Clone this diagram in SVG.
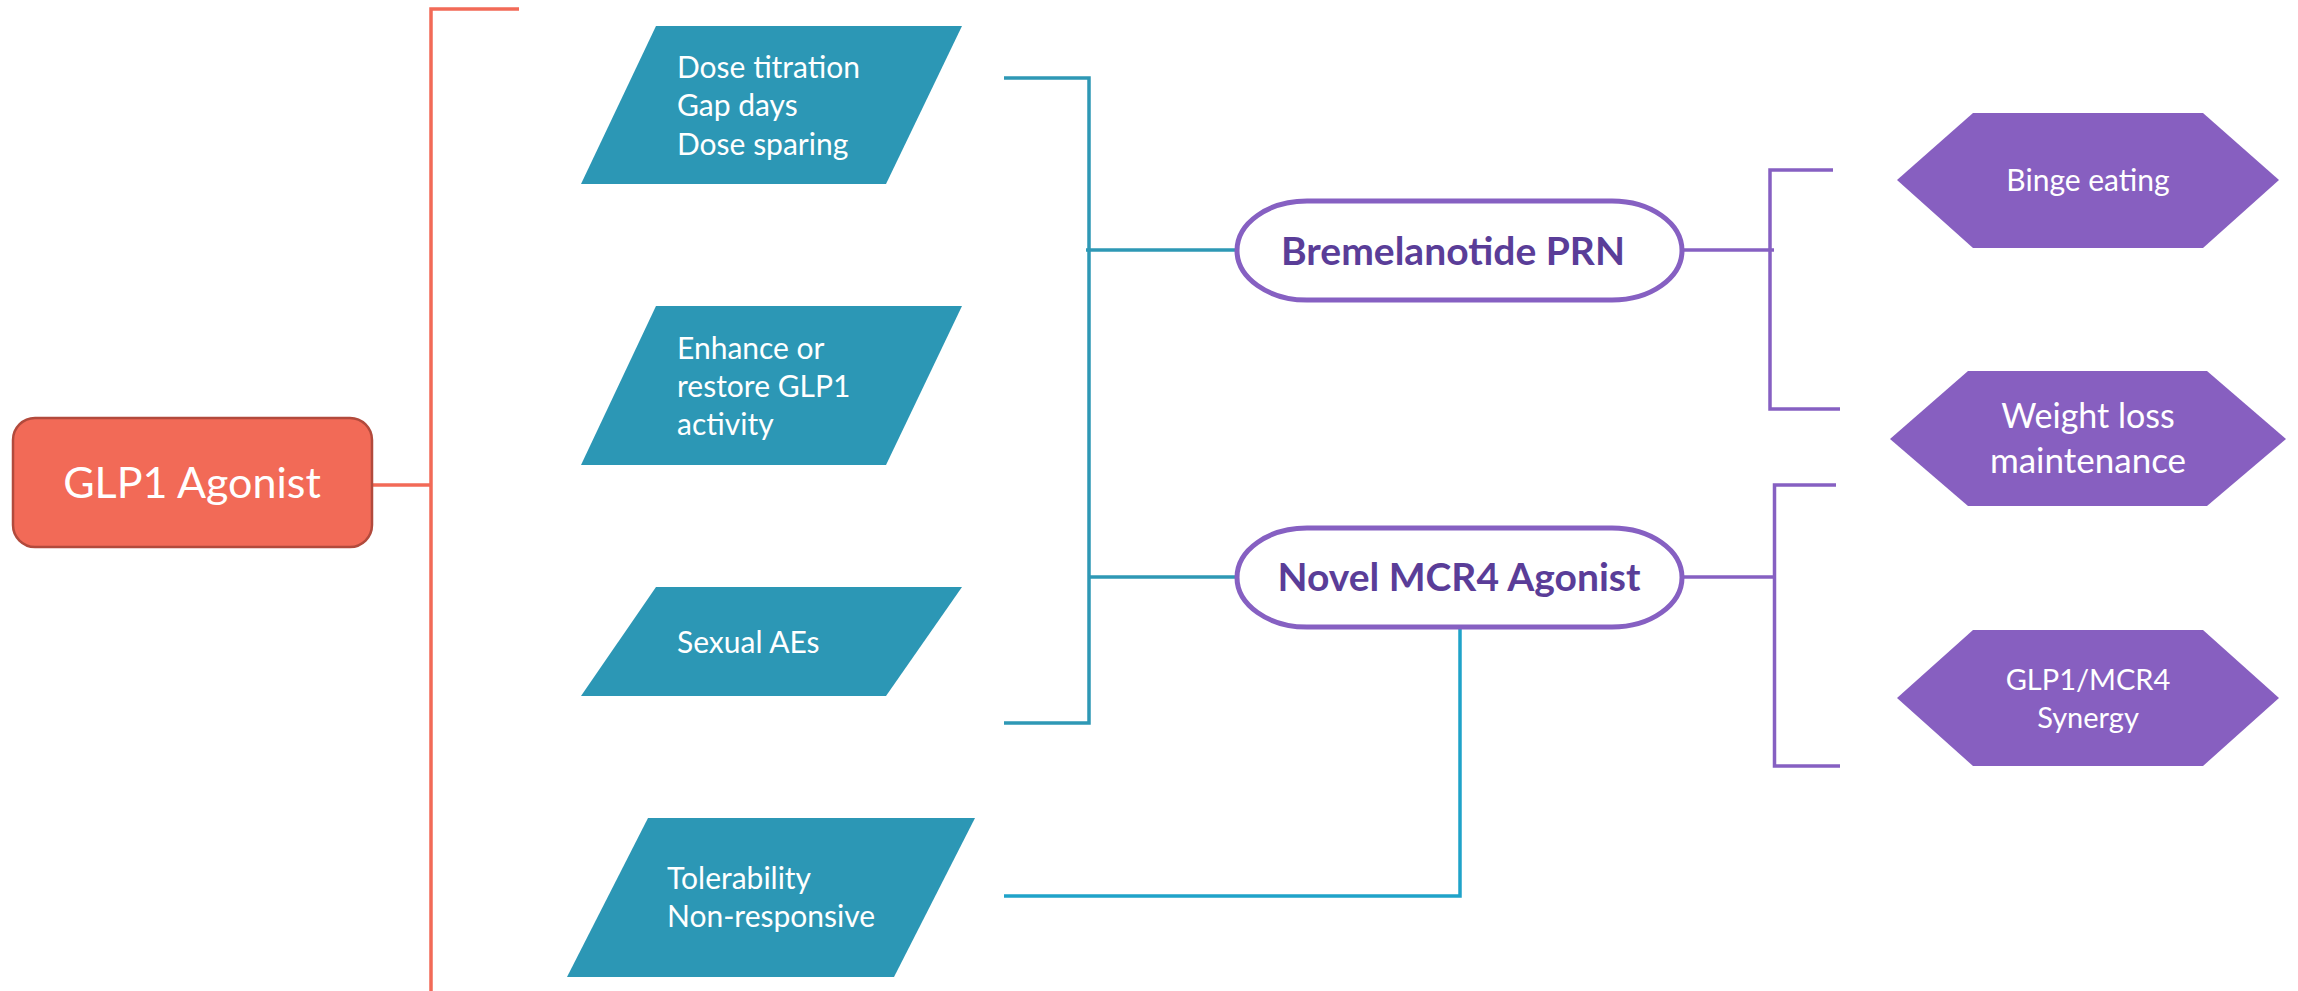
<svg xmlns="http://www.w3.org/2000/svg" width="2298" height="991" viewBox="0 0 2298 991">
<style>
.bg{fill:#ffffff}
.para{fill:#2C97B5}
.hex{fill:#875FC0}
.pill{fill:#ffffff;stroke:#8660C2;stroke-width:5}
.root{fill:#F26A57;stroke:#B24A3C;stroke-width:2.5}
.t{font-family:"Lato","Liberation Sans",sans-serif;fill:#ffffff}
.p{font-size:30px}
.pt{font-family:"Lato","Liberation Sans",sans-serif;font-weight:bold;font-size:39px;fill:#5A3D98;text-anchor:middle}
.c{text-anchor:middle}
.lo{stroke:#F26A57;stroke-width:3.5;fill:none}
.lt{stroke:#2E98B5;stroke-width:3.5;fill:none}
.lt2{stroke:#1FA3C9;stroke-width:3.5;fill:none}
.lp{stroke:#8660C2;stroke-width:3.5;fill:none}
</style>
<rect class="bg" x="0" y="0" width="2298" height="991"/>
<g id="connectors">
<path class="lo" d="M519,9 H431 V991"/>
<path class="lo" d="M372,485 H431"/>
<path class="lt" d="M1004,78 H1089 V723 H1004"/>
<path class="lt" d="M1086,250 H1237"/>
<path class="lt" d="M1089,577 H1237"/>
<path class="lt2" d="M1460,627 V896 H1004"/>
<path class="lp" d="M1833,170 H1770 V409 H1840"/>
<path class="lp" d="M1682,250 H1774"/>
<path class="lp" d="M1836,485 H1774.5 V766 H1840"/>
<path class="lp" d="M1682,577 H1774.5"/>
</g>
<g id="glp1-agonist">
<rect class="root" x="13" y="418" width="359" height="129" rx="22" ry="22"/>
<text class="t c" x="192" y="498" font-size="43">GLP1 Agonist</text>
</g>
<g id="dose">
<polygon class="para" points="656,26 962,26 886,184 581,184"/>
<text class="t p" x="677" y="78">Dose titration</text>
<text class="t p" x="677" y="116">Gap days</text>
<text class="t p" x="677" y="155">Dose sparing</text>
</g>
<g id="enhance">
<polygon class="para" points="656,306 962,306 886,465 581,465"/>
<text class="t p" x="677" y="359">Enhance or</text>
<text class="t p" x="677" y="397">restore GLP1</text>
<text class="t p" x="677" y="435">activity</text>
</g>
<g id="sexual">
<polygon class="para" points="656,587 962,587 886,696 581,696"/>
<text class="t p" x="677" y="653">Sexual AEs</text>
</g>
<g id="tolerability">
<polygon class="para" points="648,818 975,818 894,977 567,977"/>
<text class="t p" x="667" y="889">Tolerability</text>
<text class="t p" x="667" y="927">Non-responsive</text>
</g>
<g id="bremelanotide">
<rect class="pill" x="1237" y="201" width="445" height="99" rx="70" ry="50"/>
<text class="pt" x="1453" y="265">Bremelanotide PRN</text>
</g>
<g id="mcr4">
<rect class="pill" x="1237" y="528" width="445" height="99" rx="70" ry="50"/>
<text class="pt" x="1459" y="591">Novel MCR4 Agonist</text>
</g>
<g id="binge">
<polygon class="hex" points="1897,180 1973,113 2203,113 2279,180 2203,248 1973,248"/>
<text class="t c" x="2088" y="191" font-size="30">Binge eating</text>
</g>
<g id="weight">
<polygon class="hex" points="1890,439 1968,371 2207,371 2286,439 2207,506 1968,506"/>
<text class="t c" x="2088" y="428" font-size="34">Weight loss</text>
<text class="t c" x="2088" y="473" font-size="35">maintenance</text>
</g>
<g id="synergy">
<polygon class="hex" points="1897,698 1973,630 2203,630 2279,698 2203,766 1973,766"/>
<text class="t c" x="2088" y="690" font-size="29">GLP1/MCR4</text>
<text class="t c" x="2088" y="728" font-size="29">Synergy</text>
</g>
</svg>
